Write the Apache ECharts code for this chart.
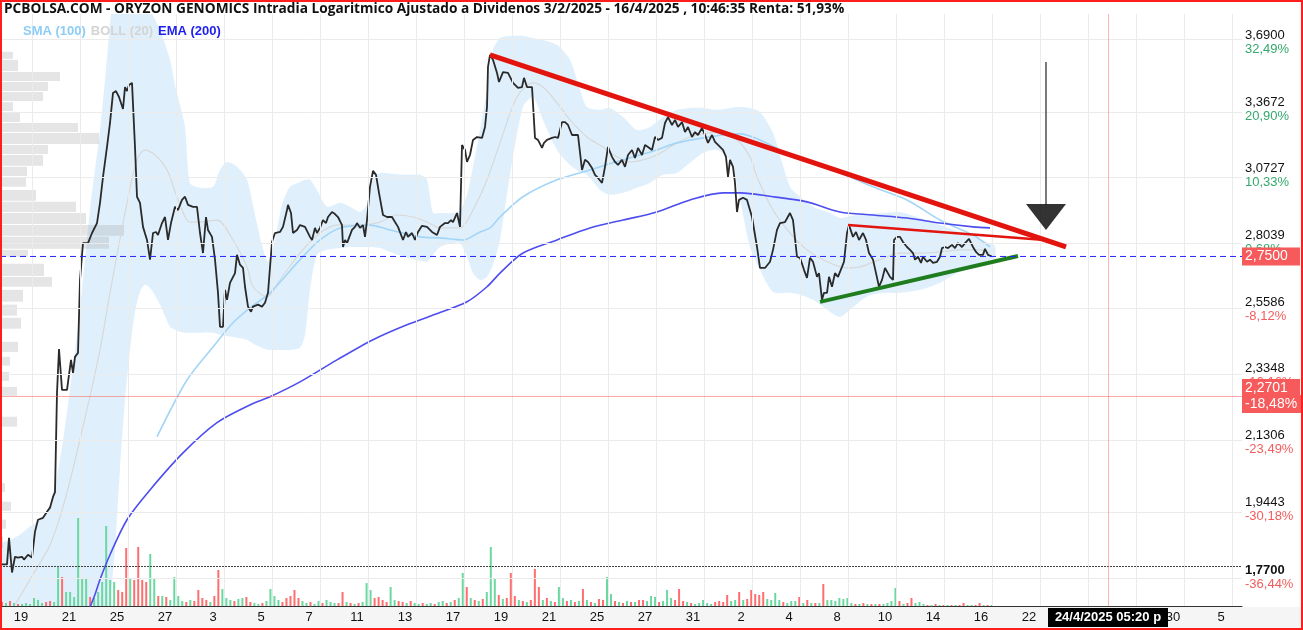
<!DOCTYPE html>
<html>
<head>
<meta charset="utf-8">
<title>Oryzon Genomics</title>
<script src="https://cdn.jsdelivr.net/npm/echarts@6.0.0/dist/echarts.min.js"></script>
<style>
  html, body { margin: 0; padding: 0; background: #fff; }
  #chart { width: 1303px; height: 630px; }
</style>
</head>
<body>
<div id="chart"></div>
<script>
// x values are trading minutes counted from the first bar (one session = 480 min)
const closes = [
  [40,1.802],[140,1.802],[180,1.869],[240,1.782],[300,1.821],[360,1.819],[440,1.821],[480,1.814],[560,1.826],[640,1.819],
  [700,1.885],[760,1.916],[860,1.921],[940,1.937],[1000,1.948],[1060,1.977],[1100,1.990],[1140,2.281],[1180,2.422],[1240,2.290],
  [1340,2.290],[1420,2.386],[1460,2.344],[1500,2.396],[1560,2.409],[1600,2.663],[1660,2.801],[1760,2.801],[1840,2.840],[1880,2.840],
  [1940,2.879],[2000,2.960],[2060,3.067],[2140,3.196],[2200,3.303],[2260,3.442],[2320,3.451],[2380,3.423],[2460,3.367],[2500,3.470],
  [2540,3.451],[2580,3.480],[2640,3.490],[2700,3.196],[2740,2.985],[2800,2.960],[2860,2.864],[2940,2.813],[3000,2.738],[3060,2.840],
  [3120,2.844],[3160,2.832],[3240,2.879],[3300,2.903],[3360,2.813],[3420,2.879],[3500,2.944],[3560,2.931],[3640,2.972],[3700,2.985],
  [3760,2.952],[3860,2.944],[3940,2.944],[4000,2.840],[4060,2.763],[4120,2.903],[4160,2.852],[4240,2.825],[4300,2.738],[4360,2.616],
  [4400,2.497],[4460,2.497],[4500,2.627],[4540,2.591],[4600,2.652],[4700,2.688],[4740,2.756],[4800,2.719],[4860,2.707],[4900,2.638],
  [4960,2.567],[5020,2.549],[5060,2.567],[5160,2.574],[5240,2.567],[5300,2.581],[5360,2.616],[5440,2.805],[5500,2.840],[5600,2.844],
  [5660,2.864],[5740,2.931],[5760,2.952],[5820,2.919],[5860,2.840],[5940,2.852],[6000,2.871],[6100,2.864],[6200,2.825],[6240,2.813],
  [6300,2.860],[6340,2.840],[6400,2.860],[6460,2.891],[6520,2.879],[6560,2.903],[6640,2.923],[6700,2.915],[6760,2.903],[6840,2.871],
  [6860,2.786],[6900,2.813],[6940,2.801],[6980,2.805],[7040,2.852],[7100,2.864],[7140,2.879],[7200,2.860],[7260,2.871],[7300,2.825],
  [7340,2.891],[7400,3.026],[7460,3.093],[7520,3.076],[7580,3.001],[7660,2.911],[7740,2.903],[7840,2.903],[7900,2.883],[7960,2.864],
  [8060,2.813],[8120,2.844],[8160,2.825],[8240,2.840],[8300,2.813],[8360,2.844],[8440,2.868],[8540,2.864],[8640,2.844],[8740,2.832],
  [8800,2.864],[8900,2.879],[8960,2.879],[9020,2.891],[9060,2.883],[9140,2.919],[9200,2.864],[9240,3.205],[9300,3.183],[9340,3.131],
  [9400,3.161],[9460,3.227],[9540,3.240],[9640,3.236],[9700,3.285],[9740,3.376],[9760,3.567],[9800,3.627],[9860,3.602],[9940,3.538],
  [9980,3.494],[10060,3.542],[10100,3.538],[10160,3.538],[10260,3.490],[10360,3.466],[10440,3.470],[10480,3.514],[10540,3.470],[10640,3.470],
  [10700,3.236],[10760,3.227],[10840,3.192],[10880,3.214],[10940,3.227],[11040,3.236],[11100,3.240],[11160,3.236],[11240,3.307],[11300,3.307],
  [11360,3.294],[11440,3.249],[11560,3.249],[11640,3.097],[11700,3.140],[11760,3.131],[11840,3.105],[11900,3.076],[11960,3.063],[12040,3.042],
  [12100,3.110],[12160,3.196],[12240,3.153],[12300,3.131],[12360,3.118],[12440,3.140],[12500,3.110],[12560,3.161],[12640,3.183],[12700,3.148],
  [12760,3.192],[12840,3.161],[12900,3.205],[12960,3.196],[13040,3.183],[13100,3.240],[13160,3.227],[13240,3.236],[13300,3.303],[13360,3.330],
  [13440,3.294],[13500,3.317],[13560,3.285],[13640,3.307],[13700,3.262],[13760,3.285],[13840,3.240],[13900,3.262],[13960,3.249],[14040,3.280],
  [14100,3.249],[14160,3.214],[14240,3.249],[14300,3.218],[14400,3.196],[14460,3.183],[14520,3.153],[14560,3.067],[14600,3.140],[14660,3.110],
  [14700,3.042],[14740,2.923],[14780,2.972],[14860,2.981],[14940,2.972],[15040,2.903],[15140,2.786],[15200,2.707],[15300,2.707],[15400,2.730],
  [15460,2.775],[15540,2.852],[15600,2.879],[15700,2.883],[15800,2.919],[15860,2.891],[15940,2.749],[16000,2.745],[16080,2.700],[16140,2.670],
  [16200,2.745],[16260,2.730],[16340,2.674],[16380,2.688],[16440,2.591],[16480,2.616],[16540,2.616],[16580,2.674],[16640,2.638],[16700,2.688],
  [16760,2.674],[16840,2.711],[16880,2.730],[16940,2.840],[16980,2.871],[17060,2.825],[17120,2.844],[17180,2.813],[17260,2.840],[17320,2.813],
  [17380,2.763],[17460,2.738],[17520,2.688],[17580,2.638],[17640,2.663],[17700,2.707],[17740,2.700],[17800,2.674],[17860,2.663],[17880,2.813],
  [17940,2.825],[18000,2.825],[18060,2.805],[18140,2.786],[18200,2.775],[18260,2.763],[18300,2.738],[18360,2.749],[18420,2.726],[18460,2.749],
  [18540,2.730],[18600,2.738],[18660,2.726],[18740,2.730],[18800,2.749],[18840,2.782],[18900,2.786],[18960,2.782],[19040,2.794],[19100,2.782],
  [19160,2.801],[19240,2.786],[19300,2.801],[19380,2.817],[19460,2.786],[19520,2.767],[19580,2.756],[19660,2.756],[19700,2.779],[19760,2.756],
  [19840,2.750]
];

const sma100 = [
  [3140,2.147],[3740,2.321],[4260,2.429],[4660,2.511],[5000,2.563],[5400,2.616],[6000,2.738],[6400,2.813],[6800,2.860],[7400,2.871],
  [7800,2.852],[8400,2.825],[8800,2.821],[9260,2.813],[9600,2.844],[9800,2.860],[10000,2.903],[10460,2.985],[11140,3.055],[11800,3.097],
  [12460,3.140],[13140,3.183],[13540,3.214],[14060,3.236],[14460,3.249],[14800,3.254],[15200,3.227],[15800,3.161],[16800,3.084],[17460,3.026],
  [18140,2.972],[18800,2.891],[19460,2.832],[19800,2.786]
];

const ema200 = [
  [1760,1.688],[1900,1.729],[2000,1.765],[2200,1.826],[2540,1.916],[3000,1.996],[3660,2.100],[4340,2.189],[5000,2.243],[5400,2.268],
  [6000,2.315],[6740,2.386],[7460,2.453],[8140,2.504],[8800,2.546],[9340,2.584],[9740,2.638],[10000,2.688],[10460,2.763],[11140,2.813],
  [11800,2.860],[12460,2.891],[13140,2.923],[13800,2.972],[14460,3.001],[14800,3.001],[15460,2.985],[16140,2.964],[16800,2.923],[17460,2.911],
  [18140,2.899],[18800,2.879],[19460,2.864],[19800,2.860]
];

const bollMid = [
  [300,1.705],[600,1.765],[1000,1.851],[1300,1.969],[1660,2.177],[2000,2.419],[2200,2.616],[2540,2.960],[2740,3.140],[2900,3.183],
  [3100,3.161],[3340,3.097],[3540,2.985],[3800,2.883],[4000,2.883],[4340,2.891],[4660,2.813],[4940,2.711],[5060,2.638],[5340,2.602],
  [5600,2.663],[6000,2.763],[6400,2.840],[6740,2.871],[7200,2.871],[7600,2.883],[7940,2.911],[8260,2.903],[8540,2.883],[8800,2.860],
  [9200,2.860],[9460,2.931],[9740,3.055],[10000,3.214],[10340,3.423],[10660,3.490],[10860,3.470],[11140,3.395],[11400,3.317],[11740,3.240],
  [12060,3.196],[12340,3.153],[12600,3.131],[12860,3.140],[13140,3.161],[13400,3.196],[13660,3.227],[13940,3.249],[14340,3.262],[14740,3.227],
  [15000,3.153],[15140,3.067],[15460,2.931],[15800,2.840],[16140,2.775],[16540,2.730],[16940,2.707],[17200,2.711],[17600,2.738],[18000,2.763],
  [18400,2.763],[18800,2.767],[19200,2.775],[19600,2.775],[19800,2.763]
];

// [time, upper band, lower band]
const bollBand = [
  [0,1.851,1.658],[200,1.864,1.658],[400,1.877,1.658],[600,1.898,1.658],[800,1.916,1.658],[1000,1.956,1.658],[1200,2.080,1.658],
  [1400,2.290,1.658],[1600,2.556,1.658],[1800,2.931,1.658],[2000,3.271,1.658],[2100,3.504,1.658],[2200,3.779,1.717],[2300,4.020,1.839],
  [2400,4.020,2.052],[2500,4.020,2.258],[2600,4.020,2.419],[2700,3.965,2.549],[2800,3.911,2.619],[2900,3.884,2.645],[3000,3.857,2.634],
  [3200,3.753,2.574],[3400,3.602,2.497],[3500,3.480,2.487],[3600,3.386,2.480],[3700,3.285,2.477],[3800,3.042,2.477],[4000,3.022,2.477],
  [4260,3.026,2.477],[4400,3.097,2.470],[4540,3.131,2.466],[4740,3.110,2.460],[4940,3.055,2.453],[5100,2.911,2.436],[5240,2.794,2.426],
  [5360,2.730,2.419],[5500,2.813,2.419],[5640,2.952,2.419],[5800,3.026,2.419],[6000,3.046,2.426],[6100,3.055,2.470],[6200,3.055,2.627],
  [6340,3.013,2.756],[6540,2.944,2.775],[6800,2.960,2.782],[7000,2.944,2.786],[7200,2.923,2.786],[7340,2.952,2.786],[7460,3.055,2.786],
  [7600,3.084,2.782],[7860,3.080,2.763],[8140,3.076,2.745],[8400,3.076,2.734],[8540,3.055,2.730],[8660,2.919,2.756],[8800,2.919,2.786],
  [9060,2.919,2.801],[9200,2.927,2.801],[9340,2.993,2.749],[9460,3.110,2.688],[9600,3.271,2.663],[9740,3.456,2.674],[9860,3.652,2.719],
  [10000,3.712,2.813],[10200,3.722,3.076],[10460,3.722,3.376],[10660,3.712,3.423],[10860,3.702,3.317],[11140,3.677,3.183],[11400,3.602,3.118],
  [11600,3.456,3.088],[11740,3.376,3.076],[12000,3.363,3.013],[12200,3.372,2.993],[12460,3.330,3.001],[12740,3.271,3.022],[13000,3.285,3.042],
  [13260,3.330,3.076],[13540,3.363,3.084],[13800,3.372,3.127],[14060,3.372,3.170],[14340,3.363,3.183],[14600,3.372,3.140],[14800,3.376,2.972],
  [15000,3.372,2.786],[15200,3.353,2.700],[15460,3.258,2.619],[15800,3.026,2.616],[16000,2.985,2.609],[16260,2.944,2.591],[16600,2.919,2.549],
  [16800,2.899,2.531],[17000,2.907,2.556],[17340,2.915,2.602],[17660,2.919,2.616],[18000,2.923,2.616],[18400,2.899,2.627],[18800,2.871,2.652],
  [19140,2.848,2.688],[19460,2.829,2.711],[19800,2.798,2.738],[19900,2.790,2.745]
];

// hourly volume (thousand shares); positive = up bar, negative = down bar
const vols = [
  -4,3,-5,3,-2,2,3,2, 8,6,3,-4,-5,4, 39,-29,14,14,9,88, 27,27,-9,8,14,24, 80,26,24,-16,-14,-58,
  28,-26,-59,-26,-24,52, 27,-10,10,-9,6,29, 10,5,-4,6,-5,-16, -8,-6,4,-10,-36,17, 8,6,-5,7,8,-9,
  -4,3,2,-3,5,17, 10,6,-4,-8,-10,-16, -8,5,3,-4,2,5, -3,6,4,3,-3,-14, 4,-3,2,-3,4,23,
  16,-8,-9,-6,-4,19, 6,-5,-4,3,-5,3, 2,-3,2,3,-2,4, 5,-3,4,-6,8,33, -19,8,-6,5,-7,14,
  59,28,-11,7,-8,-33, -10,6,-5,4,-6,-37, -19,6,-8,5,-4,19, 8,-5,6,-4,5,-17, 6,-4,3,-7,-6,29,
  12,-5,4,-3,5,-4, 4,-6,-6,5,10,9, -4,5,16,8,-6,-17, -5,4,-3,2,3,6, 3,2,-4,-5,-4,-11,
  5,6,-14,6,-7,-16, -12,-11,-14,7,6,13, 6,-4,3,5,5,-9, 3,-6,3,-3,3,-22, 6,6,5,8,7,8,
  3,-2,2,-3,2,-2, 2,-2,2,3,5,18, -5,2,-3,-8,3,4, 2,-1,1,-2,1,-1, 1,-1,1,-1,-3,1, 1,-1,-3,1,-1,1
];
const volAlert = 40;

// volume profile: [price low, price high, volume]
const profileBins = [
  [3.602,3.642,13],[3.542,3.602,18],[3.494,3.542,60],[3.446,3.494,48],[3.399,3.446,43],[3.353,3.399,13],[3.303,3.353,20],
  [3.258,3.303,78],[3.205,3.258,99],[3.161,3.205,48],[3.110,3.161,43],[3.067,3.110,27],[3.022,3.067,26],[2.964,3.013,36],
  [2.919,2.964,76],[2.871,2.919,86],[2.825,2.871,124],[2.775,2.825,109],[2.745,2.775,28],[2.674,2.723,44],[2.634,2.674,52],
  [2.581,2.627,23],[2.532,2.574,17],[2.487,2.528,21],[2.409,2.446,18],[2.364,2.396,10],[2.315,2.347,9],[2.268,2.299,17],
  [2.174,2.207,17],[1.988,2.015,5],[1.937,1.964,11],[1.890,1.916,6],[1.839,1.872,3]
];

// drawn trend lines and the arrow
const resistMajor = [[9800,3.627],[21320,2.786]];
const resistMinor = [[16960,2.871],[20900,2.813]];
const supportLine = [[16400,2.584],[20360,2.752]];
const arrowStem = [[20920,3.592],[20920,2.952]];
const arrowHead = [[20920,2.903]];

const lastPrice = 2.75;
const cursorPrice = 2.2701;
const cursorPct = '-18,48%';
const cursorTime = 22160;
const cursorLabel = '24/4/2025 05:20 p.m.';

const tickPrices = [1.77, 1.9443, 2.1306, 2.3348, 2.5586, 2.8039, 3.0727, 3.3672, 3.69];
const tickPercents = ['-36,44%', '-30,18%', '-23,49%', '-16,16%', '-8,12%', '0,68%', '10,33%', '20,90%', '32,49%'];
const dayLabels = ['19','21','25','27','3','5','7','11','13','17','19','21','25','27','31','2','4','8','10','14','16','22','24','28','30','5'];

const SESSION = 480;
const T_MIN = 0;
const T_MAX = 24840;
const ln = Math.log;
const toLog = pts => pts.map(([t, p]) => [t, ln(p)]);
const fmtPrice = p => p.toFixed(4).replace('.', ',');
const tickLogs = tickPrices.map(p => ln(p));
const labelTimes = dayLabels.map((d, i) => 420 + i * 2 * SESSION);
const gridTimes = dayLabels.map((d, i) => 640 + i * 2 * SESSION);
const volSlots = Array.from({ length: 310 }, (_, i) => i);
const bandLog = bollBand.map(b => [b[0], ln(b[1]), ln(b[2])]);

const FONT = 'Liberation Sans';
const UP = '#6bd8a1';
const DOWN = '#ff6e6e';
const RED_BOX = '#f65a5a';
const LAST_BLUE = '#2424ff';

const chart = echarts.init(document.getElementById('chart'));

// horizontal or vertical reference line drawn by markLine
const levelSeries = (name, item, lineStyle) => ({
  name, type: 'line', data: [], z: 10, silent: true,
  markLine: { silent: true, symbol: ['none', 'none'], lineStyle, data: [item] }
});

const option = {
  animation: false,
  backgroundColor: '#ffffff',
  title: [
    {
      text: 'PCBOLSA.COM - ORYZON GENOMICS Intradia Logaritmico Ajustado a Dividenos 3/2/2025 - 16/4/2025 , 10:46:35 Renta: 51,93%',
      left: 4, top: 2, padding: 0,
      textStyle: { fontFamily: 'Open Sans', fontSize: 13.7, fontWeight: 'bold', color: '#111' }
    },
    {
      text: '{s|SMA (100)} {b|BOLL (20)} {e|EMA (200)}',
      left: 23, top: 22, padding: 0,
      textStyle: {
        rich: {
          s: { fontFamily: FONT, fontSize: 13, fontWeight: 'bold', color: '#8ecdf6' },
          b: { fontFamily: FONT, fontSize: 13, fontWeight: 'bold', color: '#d4d4d4' },
          e: { fontFamily: FONT, fontSize: 13, fontWeight: 'bold', color: '#1f1ff0' }
        }
      }
    }
  ],
  graphic: [
    { type: 'rect', z: -10, silent: true, shape: { x: 0, y: 607, width: 1303, height: 23 }, style: { fill: '#f5f5f5' } },
    { type: 'rect', z: 100, silent: true, shape: { x: 1, y: 1, width: 1301, height: 628 }, style: { fill: 'none', stroke: '#ff1e1e', lineWidth: 2 } }
  ],
  grid: [
    { left: 0, right: 61, top: 14, bottom: 24 },
    { left: 0, right: 61, top: 506, bottom: 24 }
  ],
  xAxis: [
    {
      type: 'value', gridIndex: 0, min: T_MIN, max: T_MAX,
      splitLine: { show: false }, axisTick: { show: false },
      axisLine: { show: true, onZero: false, lineStyle: { color: '#333', width: 1 } },
      axisLabel: {
        customValues: labelTimes,
        formatter: v => { const i = labelTimes.indexOf(v); return i >= 0 ? dayLabels[i] : ''; },
        fontFamily: FONT, fontSize: 13, color: '#111', margin: 5
      }
    },
    { type: 'category', gridIndex: 1, data: volSlots, show: false, boundaryGap: true },
    { type: 'value', gridIndex: 0, min: 0, max: 1242, show: false }
  ],
  yAxis: [
    {
      type: 'value', gridIndex: 0, position: 'right', min: ln(1.702), max: ln(3.836),
      splitLine: { show: false }, axisTick: { show: false },
      axisLine: { show: true, lineStyle: { color: '#333', width: 1 } },
      axisLabel: {
        customValues: tickLogs,
        margin: 3,
        formatter: v => {
          const i = tickLogs.findIndex(l => Math.abs(l - v) < 1e-6);
          if (i < 0) return '';
          const ps = i === 0 ? 'pb' : 'p';
          const cs = tickPercents[i].charAt(0) === '-' ? 'dn' : 'up';
          return '{' + ps + '|' + fmtPrice(tickPrices[i]) + '}\n{' + cs + '|' + tickPercents[i] + '}';
        },
        rich: {
          p: { fontFamily: FONT, fontSize: 13, color: '#111', lineHeight: 14 },
          pb: { fontFamily: FONT, fontSize: 13, fontWeight: 'bold', color: '#111', lineHeight: 14 },
          up: { fontFamily: FONT, fontSize: 13, color: '#34a96c', lineHeight: 14 },
          dn: { fontFamily: FONT, fontSize: 13, color: '#f25c5c', lineHeight: 14 }
        }
      }
    },
    { type: 'value', gridIndex: 1, min: 0, max: 100, show: false }
  ],
  series: [
    {
      name: 'grid', type: 'line', data: [], z: 1, silent: true,
      markLine: {
        silent: true, symbol: ['none', 'none'], label: { show: false },
        lineStyle: { color: '#ebebeb', width: 1, type: 'solid' },
        data: gridTimes.map(t => ({ xAxis: t })).concat(tickLogs.map(v => ({ yAxis: v })))
      }
    },
    {
      // Bollinger band: one polygon, upper edge forward then lower edge back
      name: 'bollBand', type: 'custom', z: 2, silent: true,
      data: bandLog,
      encode: { x: 0, y: [1, 2] },
      renderItem: (params, api) => {
        if (params.dataIndex !== 0) return null;
        const upper = bandLog.map(b => api.coord([b[0], b[1]]));
        const lower = bandLog.map(b => api.coord([b[0], b[2]])).reverse();
        const cs = params.coordSys;
        return {
          type: 'polygon',
          shape: { points: upper.concat(lower), smooth: 0.25 },
          style: { fill: 'rgba(140,200,245,0.28)' },
          clipPath: { type: 'rect', shape: { x: cs.x, y: cs.y, width: cs.width, height: cs.height } }
        };
      }
    },
    {
      name: 'profile', type: 'custom', xAxisIndex: 2, yAxisIndex: 0, z: 2, silent: true,
      data: profileBins.map(b => [ln(b[0]), ln(b[1]), b[2]]),
      encode: { x: 2, y: [0, 1] },
      renderItem: (params, api) => {
        const lo = api.coord([0, api.value(0)]);
        const hi = api.coord([api.value(2), api.value(1)]);
        return {
          type: 'rect',
          shape: { x: lo[0], y: hi[1], width: hi[0] - lo[0], height: Math.max(1, lo[1] - hi[1] - 1) },
          style: { fill: 'rgba(150,150,150,0.25)' }
        };
      }
    },
    {
      name: 'BOLL (20)', type: 'line', data: toLog(bollMid), symbol: 'none', smooth: 0.3, z: 3,
      lineStyle: { color: '#d8d8d8', width: 1.2 }
    },
    {
      name: 'SMA (100)', type: 'line', data: toLog(sma100), symbol: 'none', smooth: 0.3, z: 3,
      lineStyle: { color: '#a3d5f7', width: 1.6 }
    },
    {
      name: 'EMA (200)', type: 'line', data: toLog(ema200), symbol: 'none', smooth: 0.3, z: 3,
      lineStyle: { color: '#4d4df0', width: 1.6 }
    },
    {
      name: 'volume', type: 'bar', xAxisIndex: 1, yAxisIndex: 1, barWidth: 2, z: 3,
      data: vols.map(v => ({ value: Math.abs(v), itemStyle: { color: v >= 0 ? UP : DOWN } })),
      markLine: {
        silent: true, symbol: ['none', 'none'], label: { show: false },
        lineStyle: { color: '#444', width: 1, type: [2, 1] },
        data: [{ yAxis: volAlert }]
      }
    },
    {
      // last traded price, across the whole time axis, tagged on the price scale
      name: 'lastPriceLine', type: 'line', z: 9, silent: true, symbol: 'none', clip: false,
      data: [[T_MIN, ln(lastPrice)], [T_MAX, ln(lastPrice)]],
      lineStyle: { color: LAST_BLUE, width: 1, type: [6, 4] },
      endLabel: {
        show: true, distance: 0, formatter: fmtPrice(lastPrice),
        backgroundColor: RED_BOX, color: '#fff', fontFamily: FONT, fontSize: 14,
        padding: [2, 3, 2, 3], width: 52
      }
    },
    {
      name: 'price', type: 'line', data: toLog(closes), symbol: 'none', z: 4,
      lineStyle: { color: '#2a2a2a', width: 1.8 }
    },
    {
      name: 'resistMajor', type: 'line', data: toLog(resistMajor), symbol: 'none', z: 6,
      lineStyle: { color: '#e2140d', width: 5 }
    },
    {
      name: 'resistMinor', type: 'line', data: toLog(resistMinor), symbol: 'none', z: 6,
      lineStyle: { color: '#e2140d', width: 2.5 }
    },
    {
      name: 'support', type: 'line', data: toLog(supportLine), symbol: 'none', z: 6,
      lineStyle: { color: '#1f7d1f', width: 4 }
    },
    {
      name: 'arrowStem', type: 'line', data: toLog(arrowStem), symbol: 'none', z: 6,
      lineStyle: { color: '#222', width: 1.2 }
    },
    {
      name: 'arrowHead', type: 'scatter', data: toLog(arrowHead), z: 6,
      symbol: 'path://M0,0L40,0L20,26Z', symbolSize: [40, 26], itemStyle: { color: '#000' }
    },
    levelSeries('cursorPrice', {
      yAxis: ln(cursorPrice),
      label: {
        show: true, position: 'end', distance: 0,
        formatter: '{a|' + fmtPrice(cursorPrice) + '}\n{b|' + cursorPct + '}',
        rich: {
          a: { backgroundColor: RED_BOX, color: '#fff', fontFamily: FONT, fontSize: 14, padding: [2, 3], width: 52, lineHeight: 16 },
          b: { backgroundColor: RED_BOX, color: '#fff', fontFamily: FONT, fontSize: 14, padding: [2, 3], width: 54, lineHeight: 16 }
        }
      }
    }, { color: 'rgba(255,110,110,0.6)', width: 1, type: 'solid' }),
    levelSeries('cursorTime', {
      xAxis: cursorTime,
      label: {
        show: true, position: 'start', distance: 2, formatter: cursorLabel,
        backgroundColor: '#000', color: '#fff', fontFamily: FONT, fontSize: 13, fontWeight: 'bold',
        padding: [3, 3], width: 114, overflow: 'truncate', ellipsis: ''
      }
    }, { color: 'rgba(255,110,110,0.5)', width: 1, type: 'solid' })
  ]
};

chart.setOption(option);
</script>
</body>
</html>
